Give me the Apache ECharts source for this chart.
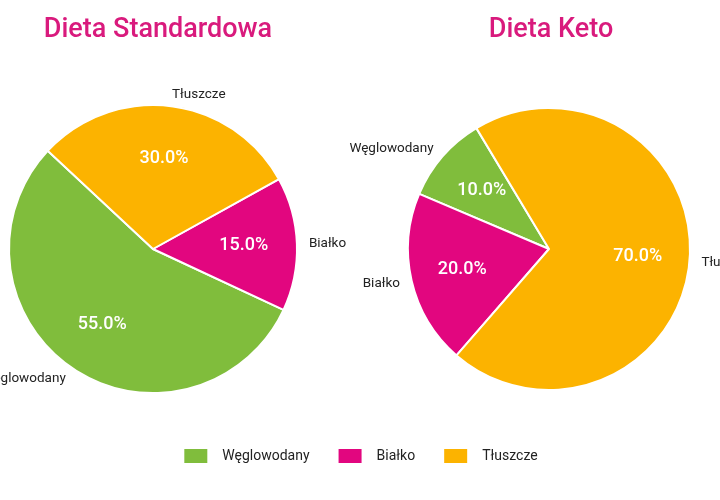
<!DOCTYPE html>
<html>
<head>
<meta charset="utf-8">
<script src="https://cdn.jsdelivr.net/npm/echarts@6/dist/echarts.min.js"></script>
<style>
  html, body { margin: 0; padding: 0; background: #fff; }
  #main { width: 720px; height: 500px; }
</style>
</head>
<body>
<div id="main"></div>
<script>
// dane
var kategorie = ['Węglowodany', 'Białko', 'Tłuszcze'];
var dietaStandardowa = [55, 15, 30];
var dietaKeto = [10, 20, 70];
var tytuly = ['Dieta Standardowa', 'Dieta Keto'];
var kolory = ['#80BD3C', '#E2067F', '#FCB300'];

var FONT = 'Roboto, "Noto Sans", sans-serif';

function toData(values) {
    return kategorie.map(function (name, i) {
        return { name: name, value: values[i], itemStyle: { color: kolory[i] } };
    });
}

// główny wykres kołowy z nazwami na zewnątrz
function pieMain(values, center, r, startAngle) {
    return {
        type: 'pie',
        center: center,
        radius: [0, r],
        startAngle: startAngle,
        clockwise: false,
        avoidLabelOverlap: false,
        itemStyle: { borderColor: '#fff', borderWidth: 2 },
        label: {
            show: true,
            position: 'outside',
            color: '#222',
            fontSize: 13.5,
            fontFamily: FONT,
            overflow: 'none',
            distanceToLabelLine: 0,
            formatter: '{b}'
        },
        labelLine: { show: false, length: 12, length2: 0 },
        emphasis: { disabled: true },
        data: toData(values)
    };
}

// przezroczysta nakładka - tylko procenty w środku
function piePercent(values, center, r, startAngle) {
    return {
        type: 'pie',
        center: center,
        radius: [0, r * 1.22],
        startAngle: startAngle,
        clockwise: false,
        silent: true,
        z: 5,
        itemStyle: { color: 'transparent', borderWidth: 0 },
        label: {
            show: true,
            position: 'inside',
            color: '#fff',
            fontSize: 18,
            fontWeight: 500,
            fontFamily: FONT,
            formatter: function (p) { return p.value.toFixed(1) + '%'; }
        },
        labelLine: { show: false },
        emphasis: { disabled: true },
        data: kategorie.map(function (name, i) {
            return { name: name, value: values[i] };
        })
    };
}

var chart = echarts.init(document.getElementById('main'));
chart.setOption({
    backgroundColor: '#fff',
    animation: false,
    title: [
        {
            text: tytuly[0], left: 153, top: 12, textAlign: 'center',
            textStyle: { color: '#D91A7D', fontSize: 27, fontWeight: 500, fontFamily: FONT }
        },
        {
            text: tytuly[1], left: 546, top: 12, textAlign: 'center',
            textStyle: { color: '#D91A7D', fontSize: 27, fontWeight: 500, fontFamily: FONT }
        }
    ],
    legend: {
        bottom: 30,
        left: 'center',
        itemWidth: 25,
        itemHeight: 16,
        itemGap: 27,
        icon: 'rect',
        textStyle: { color: '#222', fontSize: 14, fontFamily: FONT, padding: [0, 0, 0, 9] },
        data: kategorie.map(function (name, i) {
            return { name: name, itemStyle: { color: kolory[i] } };
        })
    },
    series: [
        pieMain(dietaStandardowa, [153, 249], 144, 137),
        pieMain(dietaKeto, [549, 249], 141, 121),
        piePercent(dietaStandardowa, [153, 249], 144, 137),
        piePercent(dietaKeto, [549, 249], 141, 121)
    ]
});
</script>
</body>
</html>
